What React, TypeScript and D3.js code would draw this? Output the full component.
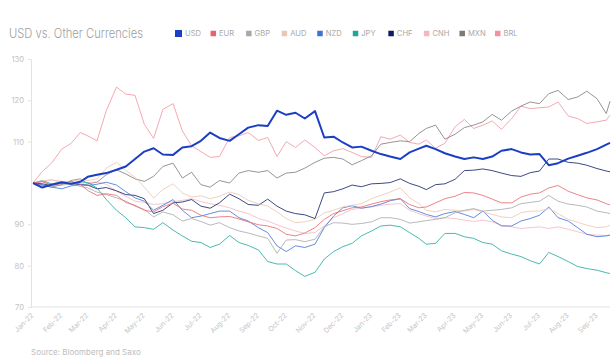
import { useEffect, useRef } from 'react';
import * as d3 from 'd3';

// sample dates (1st, 11th, 21st of each month)
const dates = [
  '2022-01-01', '2022-01-11', '2022-01-21', '2022-02-01', '2022-02-11', '2022-02-21',
  '2022-03-01', '2022-03-11', '2022-03-21', '2022-04-01', '2022-04-11', '2022-04-21',
  '2022-05-01', '2022-05-11', '2022-05-21', '2022-06-01', '2022-06-11', '2022-06-21',
  '2022-07-01', '2022-07-11', '2022-07-21', '2022-08-01', '2022-08-11', '2022-08-21',
  '2022-09-01', '2022-09-11', '2022-09-21', '2022-10-01', '2022-10-11', '2022-10-21',
  '2022-11-01', '2022-11-11', '2022-11-21', '2022-12-01', '2022-12-11', '2022-12-21',
  '2023-01-01', '2023-01-11', '2023-01-21', '2023-02-01', '2023-02-11', '2023-02-21',
  '2023-03-01', '2023-03-11', '2023-03-21', '2023-04-01', '2023-04-11', '2023-04-21',
  '2023-05-01', '2023-05-11', '2023-05-21', '2023-06-01', '2023-06-11', '2023-06-21',
  '2023-07-01', '2023-07-11', '2023-07-21', '2023-08-01', '2023-08-11', '2023-08-21',
  '2023-09-01', '2023-09-11', '2023-09-15',
];

const usd = [
  100, 98.9, 99.6, 100.2, 99.8, 100.3, 101.5, 102.0, 102.4, 103.2, 104.0, 105.8,
  107.6, 108.4, 106.9, 106.8, 108.6, 108.9, 110.2, 112.2, 110.9, 110.2, 111.8, 113.4,
  114.0, 113.8, 117.5, 116.5, 117.0, 115.6, 117.4, 111.0, 111.2, 109.8, 108.6, 108.8,
  107.8, 107.0, 106.4, 105.8, 107.4, 108.3, 109.0, 108.2, 107.2, 106.4, 105.8, 106.2,
  105.8, 106.4, 107.8, 108.2, 107.4, 106.9, 107.0, 104.3, 104.8, 105.9, 106.6, 107.3,
  108.2, 109.3, 109.7,
];
const eur = [
  100, 100.3, 99.6, 99.8, 100.4, 99.7, 98.2, 97.0, 97.4, 97.0, 95.3, 94.6,
  93.4, 93.0, 94.3, 95.1, 93.7, 93.4, 92.2, 91.6, 91.8, 91.9, 91.3, 90.6,
  89.9, 89.6, 89.0, 87.6, 87.2, 87.9, 89.2, 91.2, 92.6, 93.3, 94.0, 94.2,
  94.9, 95.5, 95.9, 96.2, 94.8, 94.0, 94.2, 95.2, 96.2, 96.8, 97.7, 97.6,
  97.0, 96.1, 95.2, 95.2, 96.6, 97.3, 97.6, 98.8, 99.4, 98.0, 97.2, 96.4,
  95.9, 95.0, 94.7,
];
const gbp = [
  100, 100.4, 99.3, 99.5, 99.8, 99.2, 98.8, 97.8, 97.2, 96.4, 95.6, 94.4,
  93.6, 91.8, 93.0, 92.3, 90.8, 91.4, 90.7, 89.8, 90.4, 89.2, 88.4, 87.9,
  87.2, 86.6, 83.0, 86.2, 86.3, 85.8, 86.4, 89.4, 90.4, 90.3, 90.0, 90.2,
  90.6, 91.6, 91.6, 91.2, 90.3, 90.6, 90.9, 91.2, 91.6, 92.8, 93.4, 93.8,
  93.2, 93.4, 93.6, 94.0, 95.0, 95.3, 95.6, 97.0, 95.6, 94.9, 94.6, 94.2,
  93.2, 92.8, 92.6,
];
const aud = [
  100, 100.5, 100.8, 100.2, 100.4, 100.8, 100.6, 101.0, 103.6, 105.0, 103.0, 101.4,
  99.0, 96.4, 98.4, 99.8, 97.6, 96.6, 96.9, 96.2, 96.8, 97.8, 97.2, 95.8,
  95.0, 94.4, 93.0, 91.4, 90.4, 90.6, 91.2, 92.8, 93.4, 94.2, 94.6, 95.0,
  96.2, 97.0, 97.8, 98.8, 96.4, 95.0, 93.4, 93.0, 93.6, 93.4, 93.2, 93.6,
  93.0, 92.4, 91.8, 91.6, 92.8, 93.2, 93.2, 93.8, 92.6, 91.2, 90.5, 89.8,
  89.2, 89.4, 89.8,
];
const nzd = [
  100, 99.6, 99.0, 98.6, 99.3, 99.6, 99.4, 99.7, 100.2, 99.5, 97.9, 96.4,
  95.6, 93.4, 94.6, 96.0, 93.4, 91.6, 92.0, 92.6, 93.2, 93.2, 91.6, 90.8,
  89.2, 88.0, 84.8, 83.4, 84.8, 84.4, 85.2, 89.2, 92.0, 94.0, 94.5, 93.9,
  94.3, 94.9, 95.7, 96.2, 93.8, 93.1, 92.4, 91.8, 92.6, 93.1, 92.4, 91.6,
  93.2, 91.0, 89.6, 89.6, 90.8, 91.4, 92.2, 94.2, 91.6, 90.8, 89.2, 87.6,
  87.0, 87.2, 87.4,
];
const jpy = [
  100, 100.6, 99.8, 100.2, 99.6, 100.3, 100.1, 98.8, 96.0, 93.4, 91.6, 89.4,
  89.2, 88.8, 90.4, 88.6, 87.2, 85.9, 85.6, 84.4, 85.2, 87.3, 85.6, 84.9,
  83.8, 81.0, 80.4, 80.4, 78.8, 77.4, 78.4, 81.6, 83.4, 84.6, 85.4, 87.2,
  88.4, 89.6, 89.8, 89.4, 88.0, 86.6, 85.2, 85.4, 87.8, 87.8, 87.0, 86.6,
  85.6, 85.2, 83.6, 82.8, 82.2, 81.2, 80.4, 83.2, 82.2, 81.0, 79.8, 79.3,
  78.9, 78.3, 78.1,
];
const chf = [
  100, 99.8, 99.4, 100.0, 99.8, 99.6, 99.5, 98.6, 98.9, 98.1, 97.2, 97.0,
  96.2, 92.6, 93.4, 95.2, 95.4, 96.0, 94.4, 93.9, 95.2, 97.3, 96.2, 94.8,
  94.6, 96.1, 94.4, 93.2, 92.6, 92.3, 91.4, 97.6, 97.9, 98.6, 99.5, 99.1,
  99.8, 99.9, 100.1, 101.0, 99.9, 99.2, 98.4, 99.6, 99.8, 100.9, 103.0, 103.1,
  103.4, 103.0, 102.4, 101.8, 101.6, 102.5, 102.9, 105.8, 105.8, 105.0, 104.8, 104.3,
  103.5, 102.9, 102.7,
];
const cnh = [
  100, 100.4, 100.7, 100.4, 100.2, 99.9, 100.1, 100.3, 99.7, 98.0, 96.8, 95.6,
  95.3, 94.8, 95.0, 95.5, 95.8, 96.2, 95.5, 95.0, 94.6, 94.0, 93.2, 92.6,
  91.4, 90.8, 89.9, 89.1, 88.4, 87.8, 88.0, 89.6, 91.6, 92.6, 93.6, 93.9,
  94.2, 94.6, 94.9, 95.0, 93.4, 92.6, 92.0, 91.4, 91.6, 91.4, 91.0, 90.7,
  91.0, 90.6, 89.8, 89.4, 89.0, 89.2, 89.4, 89.0, 89.4, 88.8, 88.2, 87.6,
  87.4, 87.3, 87.4,
];
const mxn = [
  100, 99.4, 99.0, 99.6, 100.6, 101.0, 99.8, 100.2, 102.0, 103.2, 102.2, 101.0,
  100.4, 101.6, 104.0, 104.8, 101.2, 102.6, 99.6, 99.0, 100.6, 100.0, 102.4, 103.0,
  102.6, 103.0, 101.2, 102.4, 102.6, 103.6, 105.0, 106.0, 106.2, 105.8, 104.4, 105.4,
  106.6, 109.4, 109.8, 110.2, 110.0, 112.0, 113.2, 114.0, 110.6, 111.8, 113.4, 114.0,
  114.8, 116.6, 115.2, 117.4, 118.6, 119.6, 119.2, 121.6, 122.4, 120.2, 120.8, 122.2,
  120.4, 116.8, 119.8,
];
const brl = [
  100, 102.8, 104.8, 108.2, 109.6, 112.2, 111.4, 110.2, 117.5, 123.2, 121.5, 121.2,
  114.2, 110.8, 117.8, 119.2, 112.6, 109.0, 107.6, 106.2, 106.4, 111.0, 111.4, 112.2,
  110.3, 111.0, 106.4, 110.0, 108.6, 110.4, 108.6, 106.6, 107.8, 108.3, 107.4, 106.4,
  106.2, 111.2, 110.6, 111.6, 109.8, 109.4, 110.4, 108.4, 109.6, 113.6, 115.4, 113.2,
  114.0, 115.0, 113.0, 115.6, 118.6, 118.0, 118.2, 118.4, 119.6, 116.2, 115.6, 114.4,
  114.8, 115.2, 116.4,
];

const currencies = ['USD', 'EUR', 'GBP', 'AUD', 'NZD', 'JPY', 'CHF', 'CNH', 'MXN', 'BRL'];
const seriesValues = [usd, eur, gbp, aud, nzd, jpy, chf, cnh, mxn, brl];
const colors = ['#1a3fc4', '#e8646c', '#a8a8a8', '#ebc6b2', '#3f72d6', '#1ea79c', '#0c1b66', '#f5b6c0', '#7a7a7a', '#f2929f'];

const yTicks = [70, 80, 90, 110, 120, 130];
const monthLabels = [
  'Jan-22', 'Feb-22', 'Mar-22', 'Apr-22', 'May-22', 'Jun-22', 'Jul-22', 'Aug-22', 'Sep-22',
  'Oct-22', 'Nov-22', 'Dec-22', 'Jan-23', 'Feb-23', 'Mar-23', 'Apr-23', 'May-23', 'Jun-23',
  'Jul-23', 'Aug-23', 'Sep-23',
];

export default function App() {
  const svgRef = useRef<SVGSVGElement>(null);

  useEffect(() => {
    if (!svgRef.current) return;
    const svg = d3.select(svgRef.current);
    svg.selectAll('*').remove();

    const font = 'Inter, "Open Sans", sans-serif';
    const parse = d3.timeParse('%Y-%m-%d');
    const parseMonth = d3.timeParse('%b-%y');
    const parsedDates = dates.map(d => parse(d) as Date);

    const x = d3.scaleTime()
      .domain([parsedDates[0], parsedDates[parsedDates.length - 1]])
      .range([33, 610]);
    const y = d3.scaleLinear().domain([70, 130]).range([307, 59]);

    // title
    svg.append('text')
      .attr('x', 9)
      .attr('y', 38)
      .attr('font-family', font)
      .attr('font-size', 13)
      .attr('font-weight', 300)
      .attr('fill', '#a0a0a0')
      .attr('textLength', 134)
      .attr('lengthAdjust', 'spacingAndGlyphs')
      .text('USD vs. Other Currencies');

    // legend
    const lx = d3.scalePoint<string>().domain(currencies).range([175, 495]);
    currencies.forEach((c, i) => {
      const s = i === 0 ? 7 : 5.5;
      svg.append('rect')
        .attr('x', lx(c)!)
        .attr('y', 33.5 - s / 2)
        .attr('width', s)
        .attr('height', s)
        .attr('fill', colors[i]);
      svg.append('text')
        .attr('x', lx(c)! + (i === 0 ? 10 : 8.5))
        .attr('y', 36.3)
        .attr('font-family', font)
        .attr('font-size', 7.6)
        .attr('fill', '#a9a9a9')
        .text(c);
    });

    // y axis
    const yAxis = svg.append('g')
      .attr('transform', 'translate(31,0)')
      .call(d3.axisLeft(y).tickValues(yTicks).tickSize(3).tickSizeOuter(0).tickPadding(4));
    yAxis.select('.domain').attr('stroke', '#e2e2e2');
    yAxis.selectAll('.tick line').attr('stroke', '#e2e2e2');
    yAxis.selectAll('.tick text')
      .attr('fill', '#c2c2c2')
      .attr('font-size', 7.6)
      .attr('font-family', font);

    // x axis line
    svg.append('line')
      .attr('x1', 31).attr('x2', 610)
      .attr('y1', y(70)).attr('y2', y(70))
      .attr('stroke', '#e2e2e2');

    monthLabels.forEach(m => {
      const d = parseMonth(m) as Date;
      svg.append('text')
        .attr('transform', `translate(${x(d) + 1},${y(70) + 9}) rotate(-45)`)
        .attr('text-anchor', 'end')
        .attr('font-family', font)
        .attr('font-size', 7)
        .attr('fill', '#c4c4c4')
        .text(m);
    });

    // lines, USD drawn last so it sits on top
    const line = d3.line<number>()
      .x((_, i) => x(parsedDates[i]))
      .y(v => y(v))
      .curve(d3.curveLinear);

    const order = [9, 8, 7, 6, 5, 4, 3, 2, 1, 0];
    order.forEach(i => {
      svg.append('path')
        .datum(seriesValues[i])
        .attr('fill', 'none')
        .attr('stroke', colors[i])
        .attr('stroke-width', i === 0 ? 2 : 1)
        .attr('stroke-opacity', i === 0 ? 1 : 0.8)
        .attr('stroke-linejoin', 'round')
        .attr('d', line);
    });

    // source
    svg.append('text')
      .attr('x', 31)
      .attr('y', 355)
      .attr('font-family', font)
      .attr('font-size', 8)
      .attr('fill', '#bdbdbd')
      .text('Source: Bloomberg and Saxo');
  }, []);

  return (
    <svg
      ref={svgRef}
      width={615}
      height={360}
      style={{ position: 'absolute', left: 0, top: 0, background: '#fff' }}
    />
  );
}
